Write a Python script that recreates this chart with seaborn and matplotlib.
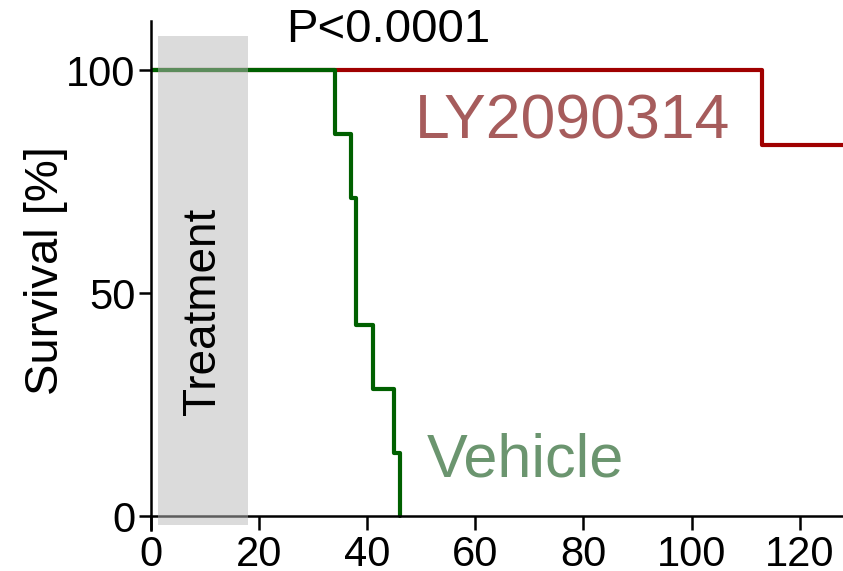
import pandas as pd
import matplotlib.pyplot as plt
import seaborn as sns

# Kaplan-Meier steps
vehicle_days = [0, 34, 37, 38, 41, 45, 46]
vehicle_surv = [100, 85.7, 71.4, 42.9, 28.6, 14.3, 0]
ly_days = [0, 113, 128]
ly_surv = [100, 83.3, 83.3]
groups = ["LY2090314", "Vehicle"]
line_colors = {"LY2090314": "#a00000", "Vehicle": "#006000"}
text_colors = {"LY2090314": "#a65c5c", "Vehicle": "#6b956f"}

treatment_start, treatment_end = 1.3, 17.9
x_ticks = [0, 20, 40, 60, 80, 100, 120]
y_ticks = [0, 50, 100]

df = pd.concat([
    pd.DataFrame({"day": ly_days, "survival": ly_surv, "group": groups[0]}),
    pd.DataFrame({"day": vehicle_days, "survival": vehicle_surv, "group": groups[1]}),
])

sns.set_style("ticks")
plt.rcParams["font.family"] = ["Liberation Sans", "DejaVu Sans"]
plt.rcParams["text.color"] = "black"
plt.rcParams["axes.labelcolor"] = "black"

fig = plt.figure(figsize=(8.43, 5.71), dpi=100)
ax = fig.add_axes([0.179, 0.072, 0.821, 0.891])

sns.lineplot(data=df, x="day", y="survival", hue="group", palette=line_colors,
             estimator=None, drawstyle="steps-post", linewidth=3, legend=False, ax=ax)

# treatment window, drawn on top with transparency like the original
ax.fill_between([treatment_start, treatment_end], -1.8, 107.6,
                color="#b8b8b8", alpha=0.5, linewidth=0, zorder=5)
ax.text((treatment_start + treatment_end) / 2, 46, "Treatment", rotation=90,
        ha="center", va="center", fontsize=33, zorder=6)

ax.text(48.8, 88.5, "LY2090314", color=text_colors["LY2090314"], fontsize=45,
        ha="left", va="center")
ax.text(51, 12.5, "Vehicle", color=text_colors["Vehicle"], fontsize=44,
        ha="left", va="center")
ax.text(25, 109, "P<0.0001", fontsize=34, ha="left", va="center")

ax.set_xlim(0, 128)
ax.set_ylim(-3, 111)
ax.set_xticks(x_ticks)
ax.set_yticks(y_ticks)
ax.spines["bottom"].set_position(("data", 0))
for side in ["top", "right"]:
    ax.spines[side].set_visible(False)
for side in ["left", "bottom"]:
    ax.spines[side].set_linewidth(1.8)
    ax.spines[side].set_color("black")
ax.tick_params(axis="y", length=9, width=1.8, pad=2, colors="black", labelsize=30)
ax.tick_params(axis="x", length=10, width=1.8, pad=3, colors="black", labelsize=30)
ax.set_xlabel("")
ax.set_ylabel("Survival [%]", fontsize=34)
ax.yaxis.set_label_coords(-0.12, 0.51)

plt.savefig("out.png", dpi=100)
